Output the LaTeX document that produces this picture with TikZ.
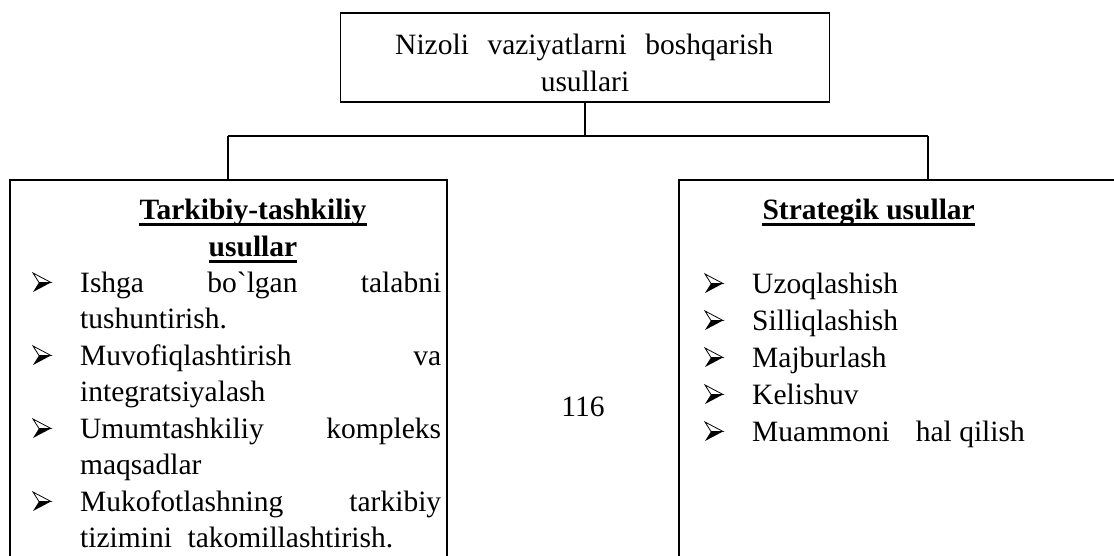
\documentclass[tikz,border=0pt]{standalone}
\usepackage{fontspec}
\setmainfont{Liberation Serif}
% plain grave accent glyph, bypassing the TeX quote mapping
\newcommand{\plaingrave}{\XeTeXglyph\XeTeXcharglyph"0060\relax}
\begin{document}
\begin{tikzpicture}[x=1pt,y=-1pt,
  frame/.style={draw=black, line width=1.6pt, inner sep=0pt},
  link/.style={draw=black, line width=1.6pt},
  txt/.style={inner sep=0pt, anchor=base west, font=\fontsize{29.5}{37}\selectfont},
  ttl/.style={inner sep=0pt, anchor=base, font=\fontsize{29.5}{37}\selectfont\bfseries},
  ul/.style={line width=2.6pt},
  pics/arrowbullet/.style={code={
    \draw[line width=0.8pt, line join=miter] (0,-19) -- (18,-9.5) -- (6,-9.5) -- cycle;
    \fill (6,-9.5) -- (18,-9.5) -- (0,0) -- cycle;
  }}]
\clip (0,0) rectangle (1114,556);

% boxes
\node[frame, minimum width=489pt, minimum height=89pt] (top) at (585,57.5) {};
\node[frame, minimum width=437pt, minimum height=440pt] (left) at (228.5,400) {};
\node[frame, minimum width=501pt, minimum height=440pt] (right) at (929.5,400) {};

% connectors
\coordinate (busL) at (228,136);
\coordinate (busR) at (928,136);
\draw[link] (top.south) -- (top.south |- busL);
\draw[link] (busL) -- (busR);
\draw[link] (busL) -- (busL |- left.north);
\draw[link] (busR) -- (busR |- right.north);

% top box text
\node[txt] (n1) at (395,55) {\makebox[378pt][s]{Nizoli vaziyatlarni boshqarish}};
\node[txt, anchor=base] (n2) at (585,92) {usullari};

% left box
\node[ttl] (lt1) at (253,220) {Tarkibiy-tashkiliy};
\node[ttl] (lt2) at (253,257) {usullar};
\draw[ul] ([yshift=-4.5pt]lt1.base west) -- ([yshift=-4.5pt]lt1.base east);
\draw[ul] ([yshift=-4.5pt]lt2.base west) -- ([yshift=-4.5pt]lt2.base east);

\node[txt] (l1) at (80,292) {\makebox[361pt][s]{Ishga bo\plaingrave lgan talabni}};
\node[txt] (l2) at (80,328.5) {tushuntirish.};
\node[txt] (l3) at (80,365) {\makebox[361pt][s]{Muvofiqlashtirish va}};
\node[txt] (l4) at (80,401.5) {integratsiyalash};
\node[txt] (l5) at (80,438) {\makebox[361pt][s]{Umumtashkiliy kompleks}};
\node[txt] (l6) at (80,474.5) {maqsadlar};
\node[txt] (l7) at (80,511) {\makebox[361pt][s]{Mukofotlashning tarkibiy}};
\node[txt] (l8) at (80,547.5) {\makebox[313pt][s]{tizimini takomillashtirish.}};
\foreach \yy in {292,365,438,511} \pic at (33,\yy) {arrowbullet};

% right box
\node[ttl, anchor=base east] (rt) at (975,220) {Strategik usullar};
\draw[ul] ([yshift=-4.5pt]rt.base west) -- ([yshift=-4.5pt]rt.base east);

\node[txt] (r1) at (752,293) {Uzoqlashish};
\node[txt] (r2) at (752,330) {Silliqlashish};
\node[txt] (r3) at (752,367) {Majburlash};
\node[txt] (r4) at (752,404) {Kelishuv};
\node[txt] (r5) at (752,441) {Muammoni\hspace{26pt}hal qilish};
\foreach \yy in {293,330,367,404,441} \pic at (705,\yy) {arrowbullet};

% page number
\node[txt, anchor=base] (pg) at (583,416) {116};
\end{tikzpicture}
\end{document}
